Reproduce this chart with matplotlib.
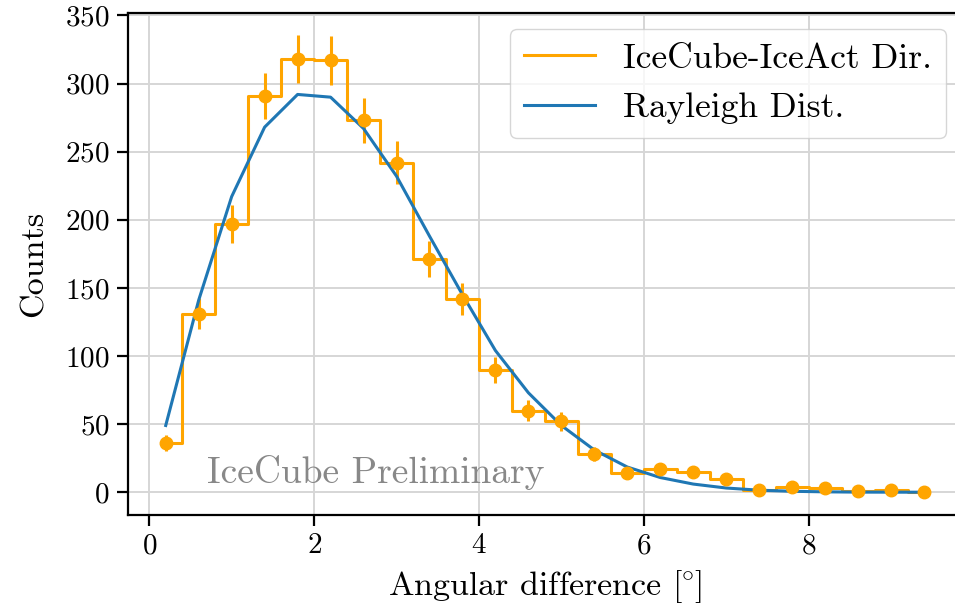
import numpy as np
import matplotlib
matplotlib.use('Agg')
from matplotlib import pyplot as plt

# bin centres (deg) and counts
angle = [0.2, 0.6, 1.0, 1.4, 1.8, 2.2, 2.6, 3.0, 3.4, 3.8, 4.2, 4.6,
         5.0, 5.4, 5.8, 6.2, 6.6, 7.0, 7.4, 7.8, 8.2, 8.6, 9.0, 9.4]
counts = [36, 131, 197, 291, 318, 317, 273, 242, 171, 142, 90, 60,
          52, 28, 14, 17, 15, 10, 2, 4, 3, 1, 2, 0]
rayleigh = [49, 141, 217, 268, 292, 290, 267, 232, 188, 145, 104, 73,
            49, 31, 18.5, 10.8, 6, 3.1, 1.5, 0.7, 0.3, 0.1, 0.05, 0.02]

plt.rcParams['font.family'] = 'serif'
plt.rcParams['font.serif'] = ['cmr10']
plt.rcParams['mathtext.fontset'] = 'cm'
plt.rcParams['axes.formatter.use_mathtext'] = True

fig = plt.figure(figsize=(9.55, 6.11), dpi=100)
W, H = 955.0, 611.0
x0, x1, y0, y1 = 127.8, 962.0, 12.7, 515.0
ax = fig.add_axes([x0 / W, 1 - y1 / H, (x1 - x0) / W, (y1 - y0) / H])

orange = '#ffa500'
blue = '#1f77b4'

ax.step(angle, counts, where='mid', color=orange, lw=2.2, label='IceCube-IceAct Dir.')
ax.errorbar(angle, counts, yerr=np.sqrt(counts), fmt='o', color=orange,
            ms=9, elinewidth=2.2, capsize=0)
ax.plot(angle, rayleigh, color=blue, lw=2.2, label='Rayleigh Dist.')

ax.set_xlim(-0.26, 9.86)
ax.set_ylim(-16.7, 352)
ax.set_xticks([0, 2, 4, 6, 8])
ax.set_yticks(np.arange(0, 351, 50))
ax.grid(True, color='#d6d6d6', lw=1.4)
ax.set_axisbelow(True)

for s in ax.spines.values():
    s.set_linewidth(1.6)
ax.tick_params(direction='out', length=8, width=1.6, labelsize=21, pad=5)

ax.set_xlabel(r'Angular difference $[\hspace{-0.06}^{\circ}\hspace{-0.05}]$',
              fontsize=24.5, labelpad=6)
ax.set_ylabel('Counts', fontsize=24.5, labelpad=12)

ax.text(0.7, 6.5, 'IceCube Preliminary', color='#888888', fontsize=27, va='baseline')

ax.legend(loc='upper right', fontsize=25.5, handlelength=2.0, borderaxespad=0.45)

fig.savefig('out.png', dpi=100)
